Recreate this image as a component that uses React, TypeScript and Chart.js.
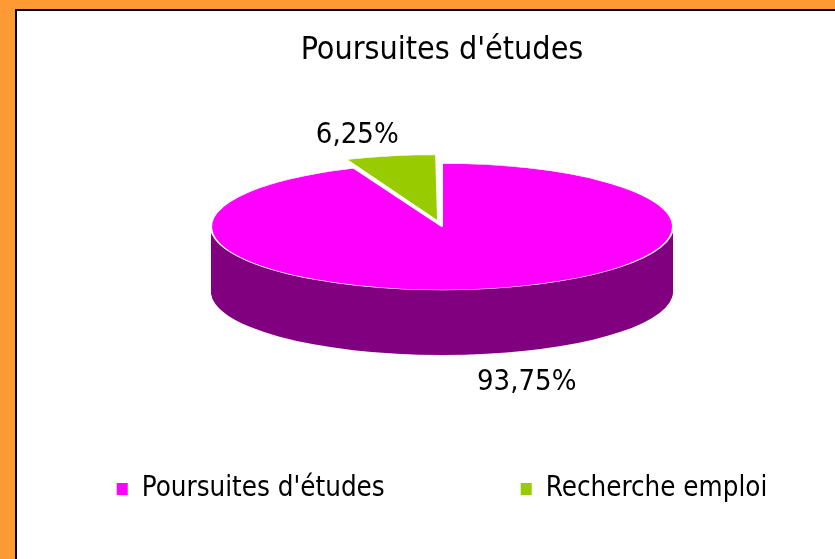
import React, { useEffect, useRef } from "react";
import { Chart, registerables } from "chart.js";

Chart.register(...registerables);

// ---- data ----
const TITLE = "Poursuites d'études";
const categories = ["Poursuites d'études", "Recherche emploi"];
const values = [93.75, 6.25];
const topColors = ["#FF00FF", "#99CC00"];
const sideColors = ["#800080", "rgba(0,0,0,0)"];
const explode = [0, 80];

// ---- style constants ----
const FONT = "'DejaVu Sans Condensed', 'DejaVu Sans', sans-serif";
const TILT = 0.274; // vertical squash of the pie top
const DEPTH = 65; // thickness of the 3D side
const PIE_RADIUS = 231;
const LABEL_KX = 1.88;
const LABEL_KY = 1.47;
const LABEL_FONT = 29;
const LEGEND_FONT = 27.5;
const LEGEND_OFFSET_Y = 155; // below chart area bottom
const LEGEND_BOX_W = 11;
const LEGEND_BOX_H = 12;
const LEGEND_TEXT_GAP = 14;
const LEGEND_ITEM_GAP = 136;

const fmtPct = (v: number, total: number) =>
  ((v / total) * 100).toFixed(2).replace(".", ",") + "%";

const pie3dPlugin = {
  id: "pie3d",
  beforeDatasetsDraw(chart: any) {
    const ctx = chart.ctx;
    const arcs = chart.getDatasetMeta(0).data;
    const cx = arcs[0].x;
    const cy = arcs[0].y;
    for (let d = DEPTH; d >= 1; d--) {
      ctx.save();
      ctx.translate(cx, cy + d);
      ctx.scale(1, TILT);
      ctx.translate(-cx, -cy);
      arcs.forEach((arc: any, i: number) => {
        const orig = arc.options;
        arc.options = Object.assign({}, orig, {
          backgroundColor: sideColors[i],
          borderWidth: 0,
        });
        arc.draw(ctx);
        arc.options = orig;
      });
      ctx.restore();
    }
    ctx.save();
    ctx.translate(cx, cy);
    ctx.scale(1, TILT);
    ctx.translate(-cx, -cy);
  },
  afterDatasetsDraw(chart: any) {
    const ctx = chart.ctx;
    ctx.restore();
    const arcs = chart.getDatasetMeta(0).data;
    const total = values.reduce((a, b) => a + b, 0);
    ctx.save();
    ctx.font = `${LABEL_FONT}px ${FONT}`;
    ctx.fillStyle = "#000";
    ctx.textAlign = "center";
    ctx.textBaseline = "middle";
    arcs.forEach((arc: any, i: number) => {
      const mid = (arc.startAngle + arc.endAngle) / 2;
      const r = arc.outerRadius;
      const s = Math.sin(mid);
      const x = arc.x + Math.cos(mid) * r * LABEL_KX;
      const y = arc.y + s * r * LABEL_KY * TILT + (s > 0 ? DEPTH : 0);
      ctx.fillText(fmtPct(values[i], total), x, y);
    });
    ctx.restore();
  },
  afterDraw(chart: any) {
    const ctx = chart.ctx;
    const area = chart.chartArea;
    const cx = (area.left + area.right) / 2;
    const y = area.bottom + LEGEND_OFFSET_Y;
    ctx.save();
    ctx.font = `${LEGEND_FONT}px ${FONT}`;
    ctx.textBaseline = "middle";
    ctx.textAlign = "left";
    const widths = categories.map((c) => ctx.measureText(c).width);
    const itemW = widths.map((w) => LEGEND_BOX_W + LEGEND_TEXT_GAP + w);
    const total =
      itemW.reduce((a, b) => a + b, 0) + LEGEND_ITEM_GAP * (categories.length - 1);
    let x = cx - total / 2;
    categories.forEach((c, i) => {
      ctx.fillStyle = topColors[i];
      ctx.fillRect(x, y - LEGEND_BOX_H / 2, LEGEND_BOX_W, LEGEND_BOX_H);
      ctx.fillStyle = "#000";
      ctx.fillText(c, x + LEGEND_BOX_W + LEGEND_TEXT_GAP, y);
      x += itemW[i] + LEGEND_ITEM_GAP;
    });
    ctx.restore();
  },
};

export default function App() {
  const ref = useRef<HTMLCanvasElement | null>(null);
  useEffect(() => {
    if (!ref.current) return;
    const chart = new Chart(ref.current, {
      type: "pie",
      data: {
        labels: categories,
        datasets: [
          {
            data: values,
            backgroundColor: topColors,
            borderColor: "#FFFFFF",
            borderWidth: 2,
            offset: explode,
            radius: PIE_RADIUS,
          } as any,
        ],
      },
      options: {
        responsive: false,
        animation: false,
        events: [],
        layout: { padding: { left: 32, right: 0, top: 0, bottom: 225 } },
        plugins: {
          legend: { display: false },
          tooltip: { enabled: false },
          title: {
            display: true,
            text: TITLE,
            color: "#000",
            font: { family: FONT, size: 32, weight: "normal" },
            padding: { top: 20, bottom: 50 },
          },
        },
      } as any,
      plugins: [pie3dPlugin],
    });
    return () => chart.destroy();
  }, []);

  return (
    <div
      style={{
        position: "fixed",
        left: 0,
        top: 0,
        width: 835,
        height: 559,
        background: "#FF9933",
        overflow: "hidden",
      }}
    >
      <div
        style={{
          position: "absolute",
          left: 15,
          top: 9,
          width: 835,
          height: 559,
          border: "2px solid #000",
          background: "#FFFFFF",
        }}
      >
        <canvas ref={ref} width={818} height={548} style={{ display: "block" }} />
      </div>
    </div>
  );
}
